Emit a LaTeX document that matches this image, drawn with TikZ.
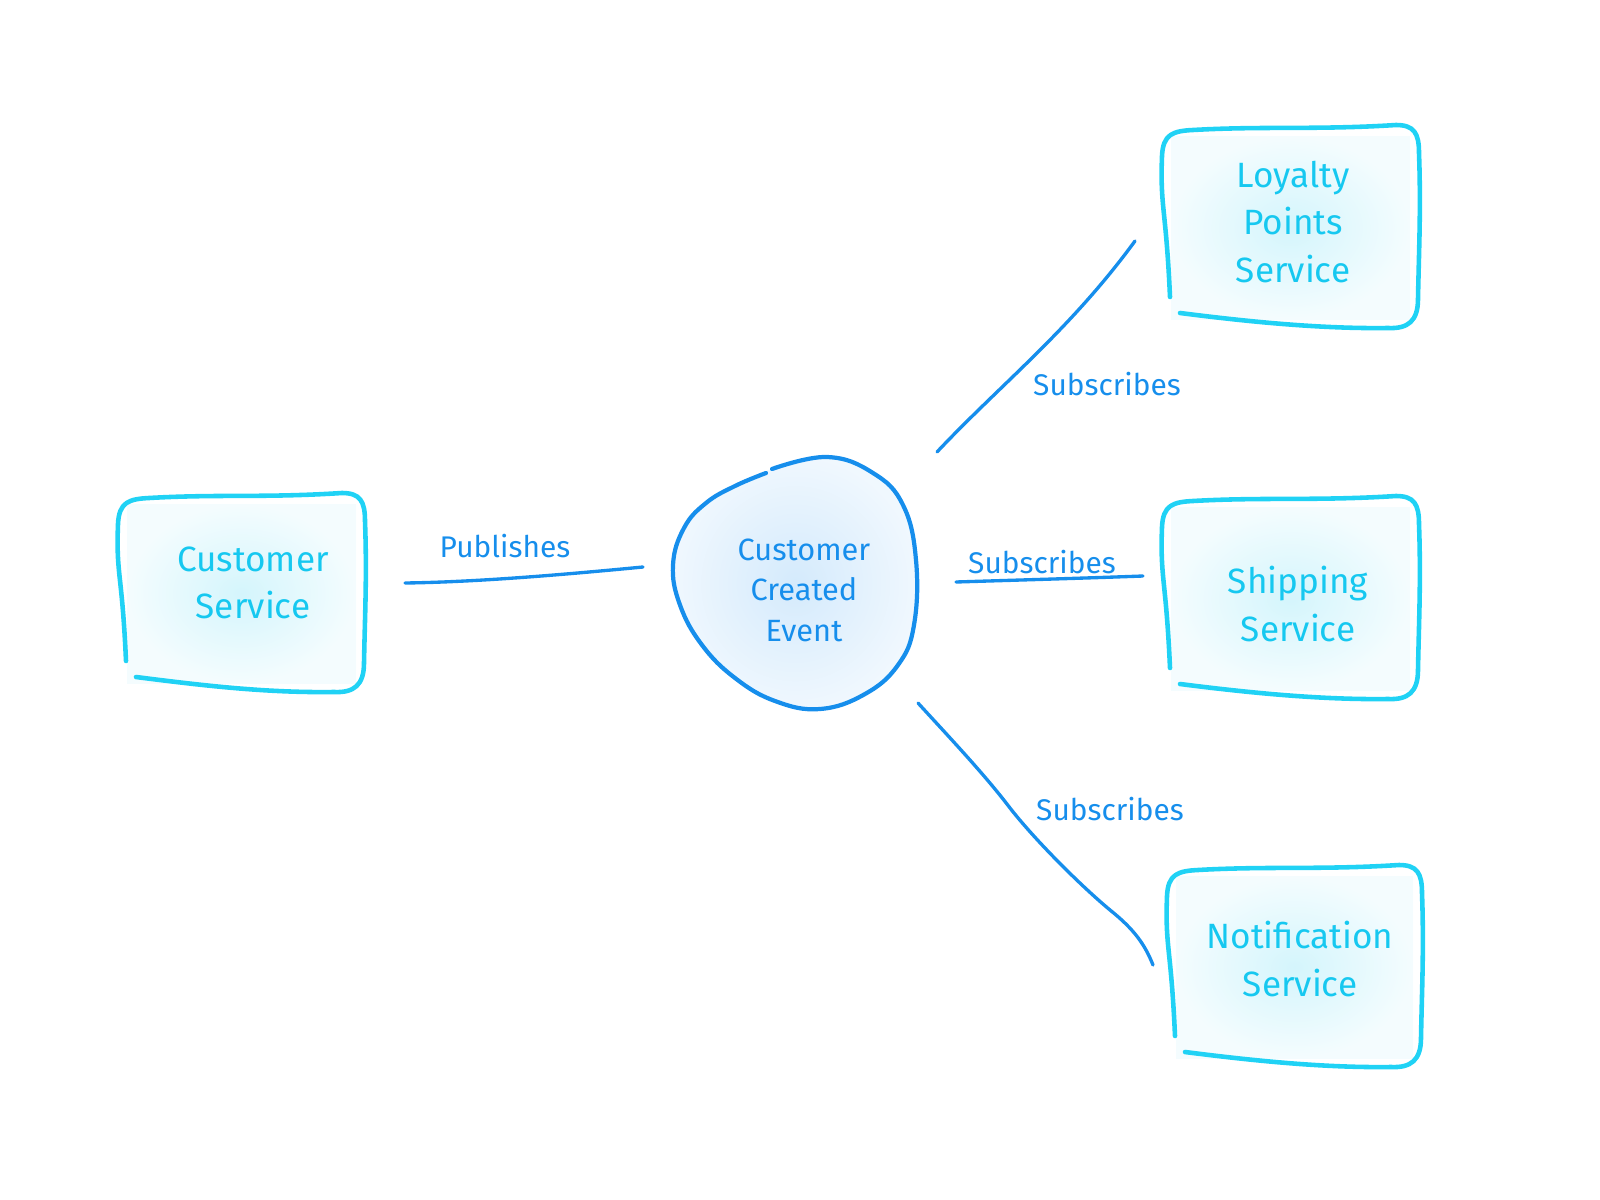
\documentclass[tikz,border=0pt]{standalone}
\usepackage{fontspec}
\setmainfont{Fira Sans}
\definecolor{boxcyan}{RGB}{32,210,245}
\definecolor{txtcyan}{RGB}{22,200,240}
\definecolor{lineblue}{RGB}{22,142,236}
\definecolor{boxfill}{RGB}{212,245,252}
\definecolor{blobfill}{RGB}{212,234,252}
\newcommand\sketchbox[4]{%
 \shade[inner color=boxfill, outer color=boxfill!25] ({#1+8},{#2+8}) rectangle ({#3-8},{#4-8});
 \draw[boxline] ({#1+7},{#4-30}) .. controls ({#1+3},{#4-120}) and ({#1-3},{#2+80}) .. ({#1-1},{#2+28})
   .. controls ({#1},{#2+6}) and ({#1+10},{#2+3}) .. ({#1+30},{#2+2})
   .. controls ({#1+100},{#2-2}) and ({#3-100},{#2+2}) .. ({#3-22},{#2-3})
   .. controls ({#3-4},{#2-3}) and ({#3+1},{#2+5}) .. ({#3+1},{#2+25})
   .. controls ({#3+3},{#2+80}) and ({#3+1},{#4-80}) .. ({#3},{#4-28})
   .. controls ({#3},{#4-6}) and ({#3-10},{#4+2}) .. ({#3-30},{#4+1})
   .. controls ({#3-100},{#4+2}) and ({#1+80},{#4-6}) .. ({#1+17},{#4-14});
}
\begin{document}
\begin{tikzpicture}[x=0.02cm,y=-0.02cm,
  boxline/.style={draw=boxcyan,line width=2.6pt,line cap=round,line join=round},
  blobline/.style={draw=lineblue,line width=2.4pt,line cap=round},
  conn/.style={draw=lineblue,line width=1.9pt,line cap=round},
  boxtext/.style={text=txtcyan,font=\fontsize{20}{27}\selectfont,align=center,inner sep=0pt},
  evtext/.style={text=lineblue,font=\fontsize{17.5}{23}\selectfont,align=center,inner sep=0pt},
  lbl/.style={text=lineblue,font=\fontsize{17}{20}\selectfont,inner sep=0pt}]
\useasboundingbox (0,0) rectangle (1600,1200);

% boxes
\sketchbox{119}{496}{364}{691}
\sketchbox{1163}{128}{1418}{327}
\sketchbox{1163}{499}{1418}{698}
\sketchbox{1168}{868}{1421}{1066}

% event blob
\shade[inner color=blobfill, outer color=blobfill!35] plot[smooth cycle, tension=0.7] coordinates {
 (772,469) (827,457) (873,473) (903,505) (916,560) (914,625) (898,665) (865,694)
 (820,709) (775,701) (735,678) (702,645) (680,605) (673,565) (684,528) (706,503) (735,486) (766,473)};
\draw[blobline] plot[smooth, tension=0.7] coordinates {
 (772,469) (827,457) (873,473) (903,505) (916,560) (914,625) (898,665) (865,694)
 (820,709) (775,701) (735,678) (702,645) (680,605) (673,565) (684,528) (706,503) (735,486) (766,473)};

% texts
\node[boxtext] (cs) at (253,583) {Customer\\Service};
\node[boxtext] (lp) at (1293,222) {Loyalty\\Points\\Service};
\node[boxtext] (sh) at (1298,604) {Shipping\\Service};
\node[boxtext] (no) at (1300,959) {Notification\\Service};
\node[evtext] (ev) at (804,590) {Customer\\Created\\Event};

% labels
\node[lbl] (pub) at (505,546) {Publishes};
\node[lbl] (sub1) at (1107,384) {Subscribes};
\node[lbl] (sub2) at (1042,562) {Subscribes};
\node[lbl] (sub3) at (1110,809) {Subscribes};

% connector ends
\coordinate (p1) at (405,583);
\coordinate (p2) at (643,567);
\coordinate (s1a) at (937,452);
\coordinate (s1b) at (1135,241);
\coordinate (s2a) at (956,582);
\coordinate (s2b) at (1143,576);
\coordinate (s3a) at (918,703);
\coordinate (s3b) at (1153,965);

\draw[conn] (p1) .. controls (480,582) and (570,574) .. (p2);
\draw[conn] (s1a) .. controls (1000,385) and (1070,330) .. (s1b);
\draw[conn] (s2a) .. controls (1020,580) and (1090,578) .. (s2b);
\draw[conn] (s3a) .. controls (950,738) and (985,775) .. (1010,808)
  .. controls (1035,840) and (1080,885) .. (1110,910)
  .. controls (1135,930) and (1145,945) .. (s3b);
\end{tikzpicture}
\end{document}
